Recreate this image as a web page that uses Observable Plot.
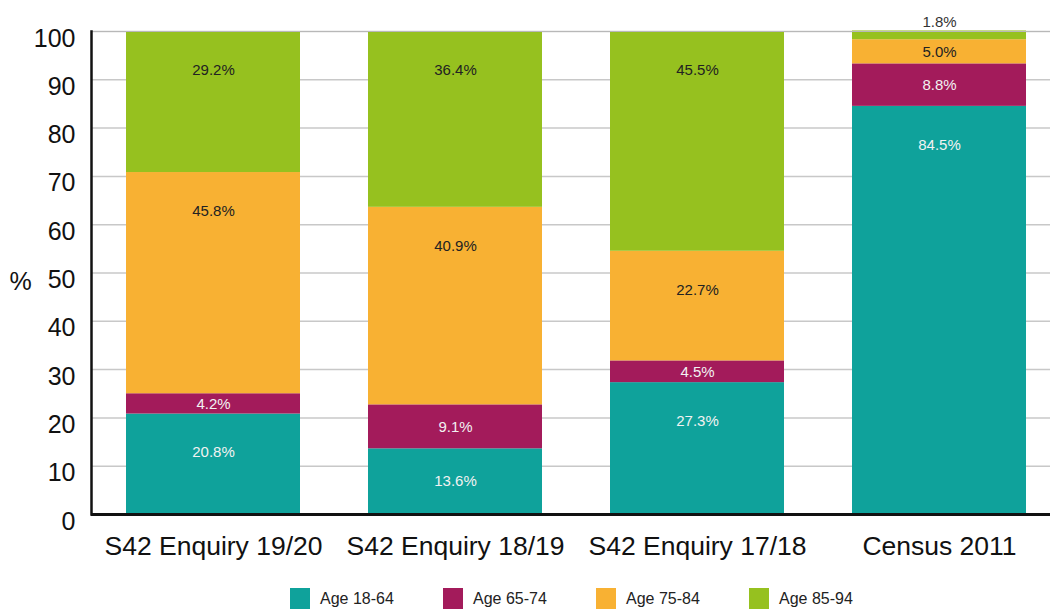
<!DOCTYPE html>
<html>
<head>
<meta charset="utf-8">
<script src="https://cdn.jsdelivr.net/npm/d3@7"></script>
<script src="https://cdn.jsdelivr.net/npm/@observablehq/plot@0.6"></script>
<style>
  html, body { margin: 0; padding: 0; background: #fff; overflow: hidden; }
  body { font-family: "Liberation Sans", Helvetica, Arial, sans-serif; }
  #legend { display: flex; margin-left: 290px; margin-top: 8px; height: 21px; }
  .item { display: flex; align-items: center; width: 153px; font-size: 16px; color: #222; }
  .sw { width: 20px; height: 21px; margin-right: 10px; flex: none; }
</style>
</head>
<body>
<div id="chart"></div>
<div id="legend"></div>
<script>
const categories = ["S42 Enquiry 19/20", "S42 Enquiry 18/19", "S42 Enquiry 17/18", "Census 2011"];
const groups = ["Age 18-64", "Age 65-74", "Age 75-84", "Age 85-94"];
const age18_64 = [20.8, 13.6, 27.3, 84.5];
const age65_74 = [4.2, 9.1, 4.5, 8.8];
const age75_84 = [45.8, 40.9, 22.7, 5.0];
const age85_94 = [29.2, 36.4, 45.5, 1.8];
const colors = ["#0fa29b", "#a31b5b", "#f8b133", "#96c11f"];
const labelColors = ["#f2f2f2", "#f2f2f2", "#222222", "#222222"];
const yTicks = [0, 10, 20, 30, 40, 50, 60, 70, 80, 90, 100];

const series = [age18_64, age65_74, age75_84, age85_94];
const rows = [];
categories.forEach((c, i) => {
  let acc = 0;
  series.forEach((s, g) => {
    const v = s[i];
    const y1 = acc, y2 = acc + v;
    acc = y2;
    const mid = (y1 + y2) / 2;
    // label placement: centered for small segments, near the top for tall ones,
    // above the bar for very thin top segments
    let ly = Math.max(mid, y2 - 8);
    let small = v < 3 && g === series.length - 1;
    if (small) ly = y2 + 1.8;
    rows.push({category: c, group: groups[g], value: v, y1, y2, ly,
               color: small ? "#333333" : labelColors[g]});
  });
});

const chart = Plot.plot({
  width: 1050,
  height: 580,
  marginLeft: 91,
  marginRight: 0,
  marginTop: 31,
  marginBottom: 66,
  style: {fontFamily: '"Liberation Sans", Helvetica, Arial, sans-serif', color: "#111", background: "#fff"},
  x: {domain: categories, range: [91, 1061], paddingInner: 0.28, paddingOuter: 0.14, label: null},
  y: {domain: [0, 100], label: null},
  color: {domain: groups, range: colors},
  marks: [
    Plot.ruleY(yTicks.filter(d => d > 0), {stroke: "#c8c8c8", strokeWidth: 1.5}),
    Plot.barY(rows, {x: "category", y1: "y1", y2: "y2", fill: "group"}),
    Plot.ruleY([100], {stroke: "#b8b8b8", strokeWidth: 1}),
    Plot.text(rows, {x: "category", y: "ly", text: d => d.value.toFixed(1) + "%", fill: "color", fontSize: 15}),
    Plot.axisY({ticks: yTicks, tickSize: 0, tickPadding: 16, fontSize: 25, dy: 7, label: null, fill: "#111"}),
    Plot.axisX({tickSize: 0, tickPadding: 22, fontSize: 26.5, label: null, fill: "#111"}),
    Plot.text(["%"], {frameAnchor: "left", dx: -71, dy: 9, fontSize: 25, fill: "#111", textAnchor: "middle", x: null}),
    Plot.frame({anchor: "left", stroke: "#111", strokeWidth: 2.5}),
    Plot.ruleY([0], {stroke: "#111", strokeWidth: 3})
  ]
});
document.getElementById("chart").append(chart);

const legend = document.getElementById("legend");
groups.forEach((g, i) => {
  const item = document.createElement("div");
  item.className = "item";
  const sw = document.createElement("div");
  sw.className = "sw";
  sw.style.background = colors[i];
  const t = document.createElement("span");
  t.textContent = g;
  item.append(sw, t);
  legend.append(item);
});
</script>
</body>
</html>
